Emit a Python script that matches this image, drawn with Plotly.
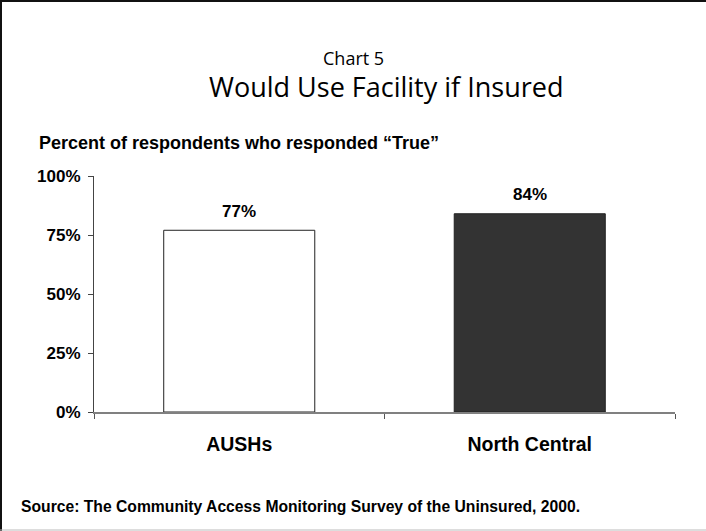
import plotly.graph_objects as go

categories = ["AUSHs", "North Central"]
values = [0.77, 0.84]
bar_colors = ["#FFFFFF", "#333333"]
y_tickvals = [0, 0.25, 0.5, 0.75, 1.0]
y_ticktext = ["0%", "25%", "50%", "75%", "100%"]

W, H = 706, 531
L, R, T, B = 94, 31, 176, 119
pw, ph = W - L - R, H - T - B

def px(x):
    return (x - L) / pw

def py(y):
    return (H - B - y) / ph

font_b = "Liberation Sans"

fig = go.Figure()
fig.add_trace(go.Bar(
    x=categories, y=values,
    marker=dict(color=bar_colors, line=dict(color="#222222", width=1)),
    width=0.52,
))

annotations = [
    dict(text="Chart 5", x=px(353), y=py(58), font=dict(family="Open Sans", size=18, color="#000")),
    dict(text="Would Use Facility if Insured", x=px(386), y=py(87), font=dict(family="Open Sans", size=27, color="#000")),
    dict(text="<b>Percent of respondents who responded “True”</b>", x=px(37), y=py(143), xanchor="left",
         font=dict(family=font_b, size=18, color="#000")),
    dict(text="<b>Source: The Community Access Monitoring Survey of the Uninsured, 2000.</b>", x=px(19), y=py(506),
         xanchor="left", font=dict(family=font_b, size=15.7, color="#000")),
]
for a in annotations:
    a.setdefault("xanchor", "center")
    a.update(xref="paper", yref="paper", showarrow=False, yanchor="middle")

# data labels from the values
for c, v in zip(categories, values):
    annotations.append(dict(
        text=f"<b>{round(v*100)}%</b>", x=c, y=v, xref="x", yref="y",
        showarrow=False, xanchor="center", yanchor="middle", yshift=19,
        font=dict(family=font_b, size=17, color="#000"),
    ))

shapes = [
    dict(type="line", xref="paper", yref="paper", x0=px(0), x1=px(706), y0=py(1), y1=py(1),
         line=dict(color="#111111", width=2)),
    dict(type="line", xref="paper", yref="paper", x0=px(1), x1=px(1), y0=py(0), y1=py(531),
         line=dict(color="#111111", width=2)),
    dict(type="line", xref="paper", yref="paper", x0=px(0), x1=px(706), y0=py(530), y1=py(530),
         line=dict(color="#BBBBBB", width=1)),
]

fig.update_layout(
    width=W, height=H,
    margin=dict(l=L, r=R, t=T, b=B),
    paper_bgcolor="#FFFFFF", plot_bgcolor="#FFFFFF",
    showlegend=False,
    annotations=annotations,
    shapes=shapes,
    xaxis=dict(
        type="category", tickson="boundaries", ticks="outside", ticklen=5, tickcolor="#555555",
        tickvals=categories, ticktext=[f"<b>{c}</b>" for c in categories],
        showline=True, linecolor="#808080", linewidth=2, showgrid=False, zeroline=False,
        tickfont=dict(family=font_b, size=19.5, color="#000"),
        ticklabelstandoff=14,
    ),
    yaxis=dict(
        range=[0, 1], tickvals=y_tickvals, ticktext=[f"<b>{t}</b>" for t in y_ticktext],
        ticks="outside", ticklen=5, tickcolor="#444444",
        showline=True, linecolor="#444444", linewidth=1, showgrid=False, zeroline=False,
        tickfont=dict(family=font_b, size=17, color="#000"),
        ticklabelstandoff=4,
    ),
)

fig.write_html("out.html")
